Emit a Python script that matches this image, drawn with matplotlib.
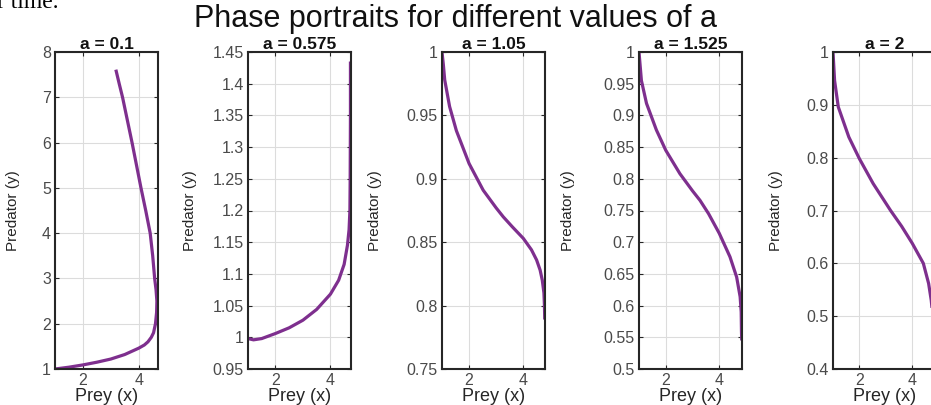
import matplotlib
matplotlib.use("Agg")
import matplotlib.pyplot as plt
from matplotlib.ticker import FuncFormatter

plt.rcParams['font.family'] = ['Liberation Sans', 'DejaVu Sans']

# ---- data ----
a_values = ["0.1", "0.575", "1.05", "1.525", "2"]

x1 = [1.0, 1.5, 2.0, 2.5, 3.0, 3.5, 4.0, 4.2, 4.33, 4.45, 4.53, 4.6, 4.64, 4.65,
      4.62, 4.57, 4.5, 4.41, 4.25, 4.08, 3.92, 3.76, 3.59, 3.42, 3.3, 3.18]
y1 = [1.0, 1.04, 1.09, 1.15, 1.22, 1.32, 1.46, 1.53, 1.6, 1.7, 1.8, 2.0, 2.25, 2.5,
      2.75, 3.0, 3.5, 4.0, 4.5, 5.0, 5.5, 6.0, 6.5, 7.0, 7.3, 7.61]

x2 = [1.0, 1.2, 1.5, 2.0, 2.5, 3.0, 3.5, 4.0, 4.3, 4.5, 4.62, 4.68, 4.71, 4.72, 4.73, 4.73]
y2 = [0.998, 0.996, 0.998, 1.006, 1.015, 1.027, 1.044, 1.068, 1.09, 1.115, 1.145,
      1.17, 1.2, 1.25, 1.35, 1.435]

x3 = [1.0, 1.05, 1.1, 1.28, 1.53, 2.0, 2.52, 3.0, 3.26, 3.6, 4.0, 4.3, 4.49, 4.62,
      4.7, 4.76, 4.78, 4.79]
y3 = [1.0, 0.99, 0.978, 0.957, 0.938, 0.912, 0.891, 0.877, 0.870, 0.862, 0.853,
      0.844, 0.836, 0.828, 0.82, 0.81, 0.8, 0.789]

x4 = [1.0, 1.04, 1.09, 1.28, 1.65, 2.0, 2.53, 3.0, 3.28, 3.6, 4.0, 4.4, 4.65, 4.78,
      4.82, 4.83, 4.84]
y4 = [1.0, 0.98, 0.955, 0.919, 0.877, 0.845, 0.808, 0.781, 0.766, 0.745, 0.714,
      0.677, 0.645, 0.614, 0.59, 0.56, 0.545]

x5 = [1.0, 1.06, 1.2, 1.6, 2.0, 2.52, 3.18, 3.6, 4.0, 4.42, 4.62, 4.72, 4.78, 4.83, 4.86]
y5 = [1.0, 0.946, 0.896, 0.839, 0.798, 0.751, 0.70, 0.67, 0.638, 0.6, 0.562, 0.53,
      0.5, 0.47, 0.45]

xs = [x1, x2, x3, x4, x5]
ys = [y1, y2, y3, y4, y5]

x_ticks = [2, 4]
y_ticks = [
    [1, 2, 3, 4, 5, 6, 7, 8],
    [0.95, 1.0, 1.05, 1.1, 1.15, 1.2, 1.25, 1.3, 1.35, 1.4, 1.45],
    [0.75, 0.8, 0.85, 0.9, 0.95, 1.0],
    [0.5, 0.55, 0.6, 0.65, 0.7, 0.75, 0.8, 0.85, 0.9, 0.95, 1.0],
    [0.4, 0.5, 0.6, 0.7, 0.8, 0.9, 1.0],
]
x_max = [4.69, 4.75, 4.8, 4.85, 4.9]

suptitle = "Phase portraits for different values of a"
xlabel = "Prey (x)"
ylabel = "Predator (y)"

# ---- figure ----
W, H = 931, 405
fig = plt.figure(figsize=(W / 100, H / 100), dpi=100)

lefts = [55, 248, 442, 639, 833]
ylabel_x = [13, 190, 375, 568, 776]
ax_w = 103
ax_top, ax_bot = 52, 369

line_color = '#7E2F8E'
dark = '#262626'
tick_col = '#4a4a4a'

fmt = FuncFormatter(lambda v, p: ('%g' % round(v, 4)))

for i in range(5):
    ax = fig.add_axes([lefts[i] / W, 1 - ax_bot / H, ax_w / W, (ax_bot - ax_top) / H])
    ax.plot(xs[i], ys[i], color=line_color, lw=2.3, solid_capstyle='butt')
    ax.set_xlim(1, x_max[i])
    ax.set_ylim(y_ticks[i][0], y_ticks[i][-1])
    ax.set_xticks(x_ticks)
    ax.set_yticks(y_ticks[i])
    ax.yaxis.set_major_formatter(fmt)
    ax.grid(True, color='#dcdcdc', lw=0.8)
    ax.set_axisbelow(True)
    for s in ax.spines.values():
        s.set_color(dark)
        s.set_linewidth(1.5)
    ax.tick_params(direction='in', length=3, width=0.8, color=dark,
                   top=True, right=True, labelsize=11.5, labelcolor=tick_col, pad=3)
    ax.set_title("a = " + a_values[i], fontsize=12.5, fontweight='bold', color='#111111', pad=2)
    ax.set_xlabel(xlabel, fontsize=13, color=dark, labelpad=0)
    ax.set_ylabel(ylabel, fontsize=11, color=dark)
    ax.yaxis.set_label_coords((ylabel_x[i] - lefts[i]) / ax_w, 0.5)
    ax.yaxis.label.set_va('center')

fig.text(456 / W, 1 - 19 / H, suptitle, fontsize=22, color='#111111', ha='center', va='center')
fig.text(-3 / W, 1 - 8 / H, "r time.", fontsize=17, family=['Liberation Serif', 'DejaVu Serif'],
         color='black', ha='left', va='baseline')

fig.savefig("out.png", dpi=100)
